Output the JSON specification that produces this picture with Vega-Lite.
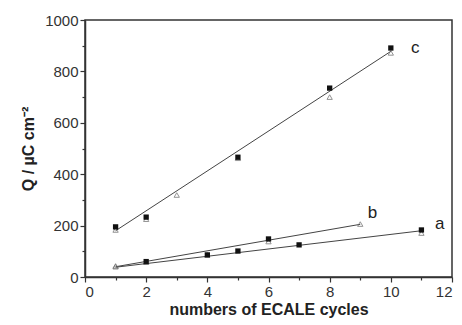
{
  "$schema": "https://vega.github.io/schema/vega-lite/v6.json",
  "width": 367,
  "height": 257,
  "autosize": {"type": "none"},
  "padding": {"left": 85, "top": 20, "right": 10, "bottom": 48},
  "background": "white",
  "config": {
    "view": {"stroke": "#333", "strokeWidth": 1.5},
    "font": "Liberation Sans"
  },
  "datasets": {
    "pts": [
      {"x": 1, "q": 195, "series": "c", "kind": "filled"},
      {"x": 2, "q": 233, "series": "c", "kind": "filled"},
      {"x": 5, "q": 466, "series": "c", "kind": "filled"},
      {"x": 8, "q": 735, "series": "c", "kind": "filled"},
      {"x": 10, "q": 891, "series": "c", "kind": "filled"},
      {"x": 1, "q": 183, "series": "c", "kind": "open"},
      {"x": 2, "q": 225, "series": "c", "kind": "open"},
      {"x": 3, "q": 319, "series": "c", "kind": "open"},
      {"x": 5, "q": 462, "series": "c", "kind": "open"},
      {"x": 8, "q": 700, "series": "c", "kind": "open"},
      {"x": 10, "q": 872, "series": "c", "kind": "open"},
      {"x": 1, "q": 43, "series": "b", "kind": "open"},
      {"x": 2, "q": 58, "series": "b", "kind": "open"},
      {"x": 4, "q": 86, "series": "b", "kind": "open"},
      {"x": 6, "q": 148, "series": "b", "kind": "filled"},
      {"x": 6, "q": 138, "series": "b", "kind": "open"},
      {"x": 9, "q": 206, "series": "b", "kind": "open"},
      {"x": 1, "q": 40, "series": "a", "kind": "open"},
      {"x": 2, "q": 60, "series": "a", "kind": "filled"},
      {"x": 4, "q": 86, "series": "a", "kind": "filled"},
      {"x": 5, "q": 101, "series": "a", "kind": "filled"},
      {"x": 7, "q": 125, "series": "a", "kind": "filled"},
      {"x": 11, "q": 183, "series": "a", "kind": "filled"},
      {"x": 11, "q": 171, "series": "a", "kind": "open"}
    ],
    "fits": [
      {"x": 1, "q": 180, "series": "c"},
      {"x": 10, "q": 878, "series": "c"},
      {"x": 1, "q": 40, "series": "b"},
      {"x": 9, "q": 205, "series": "b"},
      {"x": 1, "q": 38, "series": "a"},
      {"x": 11, "q": 180, "series": "a"}
    ],
    "labels": [
      {"x": 10.8, "q": 890, "t": "c"},
      {"x": 9.4, "q": 250, "t": "b"},
      {"x": 11.6, "q": 205, "t": "a"}
    ]
  },
  "encoding": {
    "x": {
      "field": "x", "type": "quantitative",
      "scale": {"domain": [0, 12], "nice": false, "zero": false},
      "axis": {
        "title": "numbers of ECALE cycles",
        "values": [0, 1, 2, 3, 4, 5, 6, 7, 8, 9, 10, 11, 12],
        "labelExpr": "datum.value % 2 == 0 ? datum.label : ''",
        "tickSize": {"condition": {"test": "datum.value % 2 == 0", "value": 5}, "value": 3},
        "grid": false, "domainColor": "#333", "domainWidth": 1.5,
        "tickColor": "#333", "tickWidth": 1.2,
        "labelFontSize": 15, "labelColor": "#333", "labelPadding": 2,
        "titleFontSize": 16, "titleFontWeight": "bold", "titleColor": "#222", "titlePadding": 2
      }
    },
    "y": {
      "field": "q", "type": "quantitative",
      "scale": {"domain": [0, 1000], "nice": false},
      "axis": {
        "title": "Q / µC cm⁻²",
        "values": [0, 100, 200, 300, 400, 500, 600, 700, 800, 900, 1000],
        "labelExpr": "datum.value % 200 == 0 ? format(datum.value, 'd') : ''",
        "tickSize": {"condition": {"test": "datum.value % 200 == 0", "value": 5}, "value": 3},
        "grid": false, "domainColor": "#333", "domainWidth": 1.5,
        "tickColor": "#333", "tickWidth": 1.2,
        "labelFontSize": 15, "labelColor": "#333", "labelPadding": 2,
        "titleFontSize": 16, "titleFontWeight": "bold", "titleColor": "#222", "titlePadding": 8
      }
    }
  },
  "layer": [
    {
      "data": {"name": "fits"},
      "mark": {"type": "line", "color": "#444", "strokeWidth": 1},
      "encoding": {"detail": {"field": "series"}}
    },
    {
      "data": {"name": "pts"},
      "transform": [{"filter": "datum.kind == 'open'"}],
      "mark": {"type": "point", "shape": "triangle-up", "filled": false, "stroke": "#666", "strokeWidth": 1, "size": 28}
    },
    {
      "data": {"name": "pts"},
      "transform": [{"filter": "datum.kind == 'filled'"}],
      "mark": {"type": "square", "color": "#111", "size": 28, "opacity": 1}
    },
    {
      "data": {"name": "labels"},
      "mark": {"type": "text", "fontSize": 17, "color": "#222", "align": "center", "baseline": "middle"},
      "encoding": {"text": {"field": "t"}}
    }
  ]
}
